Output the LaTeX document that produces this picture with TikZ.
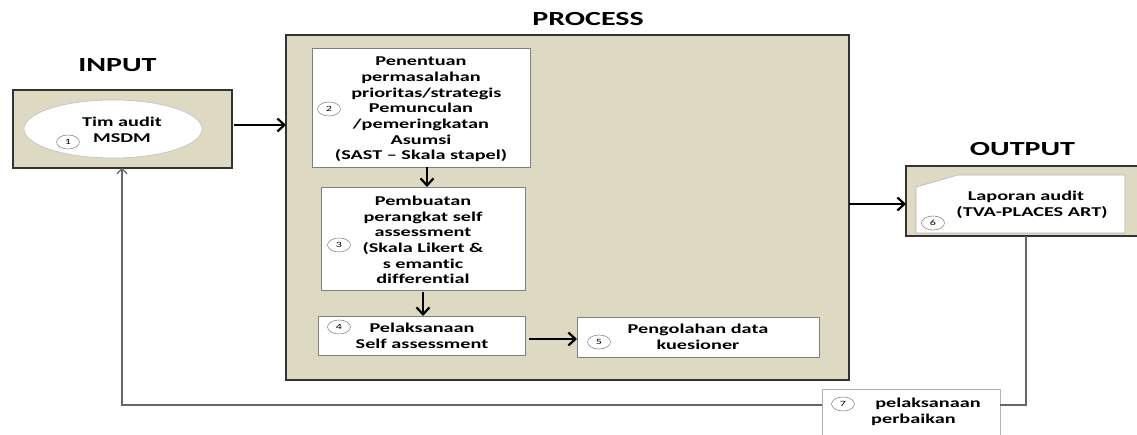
\documentclass[tikz,border=0pt]{standalone}
\usepackage{fontspec}
\setmainfont[FakeStretch=1.5, Ligatures=NoCommon]{Carlito}
\usetikzlibrary{arrows.meta,shapes.geometric}
\definecolor{tan}{HTML}{DDD9C3}
\definecolor{edgegray}{HTML}{7F7F7F}
\tikzset{
  panel/.style={draw=black!80, line width=1.4pt, fill=tan},
  stepbox/.style={draw=edgegray, line width=0.9pt, fill=white},
  steptext/.style={font=\fontsize{13.5}{15.7}\selectfont\bfseries, align=center, inner sep=0pt},
  heading/.style={font=\fontsize{20}{24}\selectfont\bfseries, inner sep=0pt},
  badge/.style={ellipse, draw=black!45, line width=0.6pt, fill=white, minimum width=23pt, minimum height=14pt, inner sep=0pt, font=\fontsize{8}{9}\selectfont},
  flow/.style={line width=2.2pt, -{Straight Barb[length=7pt,width=13pt,line width=2.2pt]}},
  back/.style={draw=black!60, line width=1.3pt, -{Straight Barb[length=5pt,width=10pt,line width=1.2pt]}}
}
\begin{document}
\begin{tikzpicture}[x=1pt,y=-1pt]
\useasboundingbox (0,0) rectangle (1137,435);
\begin{scope}
\clip (0,0) rectangle (1137,435);

% headings
\node[heading] (hin) at (117.5,65) {INPUT};
\node[heading] (hproc) at (588,19) {PROCESS};
\node[heading] (hout) at (1022.5,149) {OUTPUT};

% input panel
\draw[panel] (13,90) rectangle (232,168);
\node[ellipse, draw=black!25, line width=0.6pt, fill=white, minimum width=178pt, minimum height=58pt] (inell) at (113,129) {};
\node[steptext] (intext) at (122,130) {Tim audit\\MSDM};
\node[badge] (b1) at (68,142) {1};
\coordinate (inR) at (232,125);
\coordinate (inB) at (122,168);

% process panel
\draw[panel] (286,35) rectangle (849,380);
\coordinate (procL) at (286,125);
\coordinate (procR) at (849,204);

% step 2
\draw[stepbox] (312,48) rectangle (530,167);
\node[steptext] (t2) at (421,109.5) {Penentuan\\permasalahan\\\hspace*{0.8em}prioritas/strategis\\Pemunculan\\/pemeringkatan\\Asumsi\\(SAST – Skala stapel)};
\node[badge] (b2) at (329,109) {2};
\coordinate (s2B) at (427,167);

% step 3
\draw[stepbox] (321,187) rectangle (525,290);
\node[steptext] (t3) at (423,240) {Pembuatan\\perangkat self\\assessment\\(Skala Likert \&\\s emantic\\differential};
\node[badge] (b3) at (339,245) {3};
\coordinate (s3T) at (427,187);
\coordinate (s3B) at (423,290);

% step 4
\draw[stepbox] (318,316) rectangle (525,355);
\node[steptext] (t4) at (422,336) {Pelaksanaan\\Self assessment};
\node[badge] (b4) at (339,327) {4};
\coordinate (s4T) at (423,316);
\coordinate (s4R) at (529,339);

% step 5
\draw[stepbox] (577,317) rectangle (819,357);
\node[steptext] (t5) at (698,337) {Pengolahan data\\kuesioner};
\node[badge] (b5) at (599,342) {5};
\coordinate (s5L) at (577,339);

% output panel
\draw[panel] (906,166) rectangle (1145,236);
\draw[draw=black!30, line width=0.6pt, fill=white] (916,187) -- (958,175) -- (1125,175) -- (1125,233) -- (916,233) -- cycle;
\node[steptext] (t6) at (1026,205) {Laporan audit\\\hspace*{0.9em}(TVA-PLACES ART)};
\node[badge] (b6) at (933,223) {6};
\coordinate (outL) at (906,204);
\coordinate (outB) at (1026,236);

% step 7 (corrective action)
\draw[draw=black!30, line width=0.7pt, fill=white] (822,445) -- (822,389) -- (1000,389) -- (1000,445);
\node[steptext, align=left, anchor=west] (t7) at (871,412) {\hspace*{0.3em}pelaksanaan\\perbaikan};
\node[badge] (b7) at (843,404) {7};
\coordinate (c7R) at (1000,405);
\coordinate (c7L) at (822,405);

% flow arrows
\draw[flow] (inR) ++(2,0) -- (procL);
\draw[flow] (s2B) -- (s3T);
\draw[flow] (s3B) ++(0,2) -- (s4T);
\draw[flow] (s4R) -- (s5L);
\draw[flow] (procR) -- (outL);

% feedback loop
\draw[draw=black!60, line width=1.3pt] (outB) |- (c7R);
\draw[back] (c7L) -| (inB);
\end{scope}
\end{tikzpicture}
\end{document}
